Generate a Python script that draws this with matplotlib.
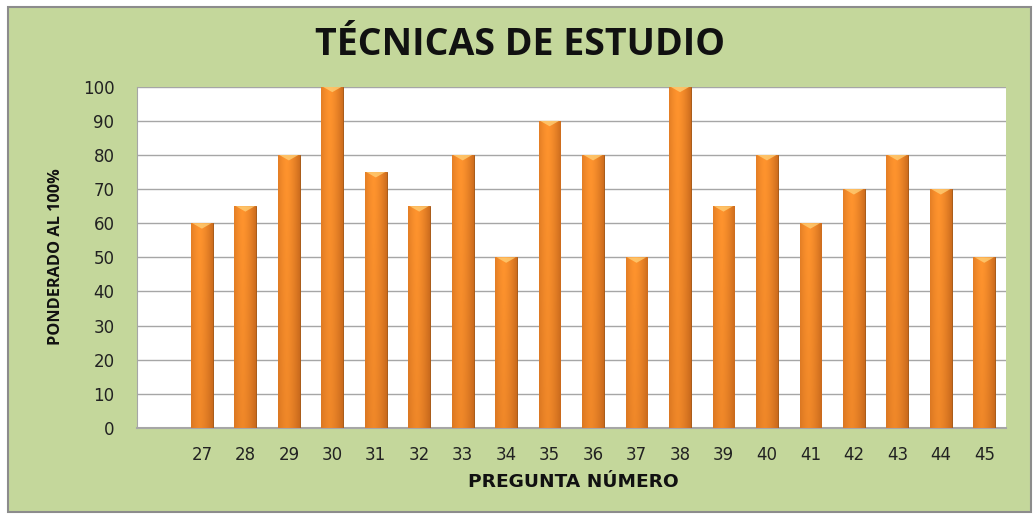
import matplotlib
matplotlib.use("Agg")
import matplotlib.pyplot as plt
import numpy as np
from matplotlib.patches import Rectangle

categories = ["27", "28", "29", "30", "31", "32", "33", "34", "35", "36",
              "37", "38", "39", "40", "41", "42", "43", "44", "45"]
values = [60, 65, 80, 100, 75, 65, 80, 50, 90, 80, 50, 100, 65, 80, 60, 70, 80, 70, 50]
yticks = [0, 10, 20, 30, 40, 50, 60, 70, 80, 90, 100]

title = "TÉCNICAS DE ESTUDIO"
xlabel = "PREGUNTA NÚMERO"
ylabel = "PONDERADO AL 100%"

W, H = 1034, 514
fig = plt.figure(figsize=(W / 100, H / 100), dpi=100)
fig.patch.set_facecolor("white")

bg = Rectangle((8 / W, 1 - 512 / H), (1031 - 8) / W, (512 - 7) / H,
               transform=fig.transFigure, facecolor="#c4d79b",
               edgecolor="#8c8c8c", linewidth=1.5, zorder=-10)
fig.patches.append(bg)

ax = fig.add_axes([136.7 / W, 1 - 428 / H, (1006 - 136.7) / W, (428 - 86.7) / H])
ax.set_zorder(5)
ax.set_facecolor("white")

x = np.arange(len(categories))
bars = ax.bar(x, values, width=0.5, color="#f28a2a", edgecolor="#a85a18",
              linewidth=0.7, zorder=3)

hgrad = np.linspace(0, 1, 64)
shade = 1 - np.abs(hgrad - 0.4) ** 1.5 / 0.6 ** 1.5
light = np.array([1.0, 0.58, 0.18])
dark = np.array([0.72, 0.36, 0.09])
vgrad = np.linspace(0, 1, 64)[:, None]
for b in bars:
    bx, by = b.get_x(), b.get_y()
    bw, bh = b.get_width(), b.get_height()
    mix = (0.3 + 0.7 * shade[None, :]) * (0.78 + 0.22 * vgrad)
    img = dark[None, None, :] + (light - dark)[None, None, :] * mix[:, :, None]
    img = np.clip(img, 0, 1)
    im = ax.imshow(img, extent=(bx, bx + bw, by, by + bh), origin="lower",
                   aspect="auto", zorder=3.5, interpolation="bilinear")
    im.set_clip_path(b)
    top = bh
    tri_h = 1.6
    ax.fill([bx + 0.03, bx + bw - 0.03, bx + bw / 2], [top, top, top - tri_h],
            color="#ffd27a", alpha=0.75, zorder=4, linewidth=0)

ax.set_xlim(-1.5, len(categories) - 0.5)
ax.set_ylim(0, 100)
ax.set_yticks(yticks)
ax.set_xticks(x)
ax.set_xticklabels(categories)
ax.yaxis.grid(True, color="#a6a6a6", linewidth=1.0, zorder=1)
ax.set_axisbelow(True)
ax.tick_params(axis="both", length=0, labelsize=12, colors="#222222")
ax.tick_params(axis="x", pad=13)
ax.tick_params(axis="y", pad=16)
for lab in ax.get_xticklabels() + ax.get_yticklabels():
    lab.set_family("DejaVu Sans")
for s in ["top", "right"]:
    ax.spines[s].set_visible(False)
ax.spines["left"].set_color("#a6a6a6")
ax.spines["bottom"].set_color("#a6a6a6")
ax.spines["bottom"].set_linewidth(1.5)

fig.text(520 / W, 1 - 45 / H, title, ha="center", va="center",
         fontsize=27, fontweight="bold", family="Open Sans", color="#111111")
fig.text(573 / W, 1 - 482 / H, xlabel, ha="center", va="center",
         fontsize=13.3, fontweight="bold", family="DejaVu Sans", color="#111111")
fig.text(56 / W, 1 - 257 / H, ylabel, ha="center", va="center", rotation=90,
         fontsize=11.7, fontweight="bold", family="Open Sans",
         color="#111111")

fig.savefig("out.png", dpi=100, facecolor=fig.get_facecolor())
